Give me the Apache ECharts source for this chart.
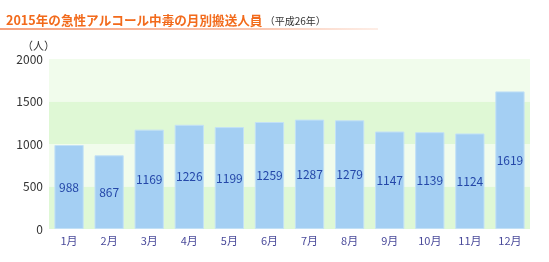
<!DOCTYPE html>
<html>
<head>
<meta charset="utf-8">
<script src="https://cdn.jsdelivr.net/npm/echarts@6/dist/echarts.min.js"></script>
<style>
  html, body { margin: 0; padding: 0; background: #fff; }
  #chart { width: 549px; height: 262px; }
</style>
</head>
<body>
<div id="chart"></div>
<script>
// 月別の搬送人員（平成26年）
const months = ["1月", "2月", "3月", "4月", "5月", "6月", "7月", "8月", "9月", "10月", "11月", "12月"];
const patients = [988, 867, 1169, 1226, 1199, 1259, 1287, 1279, 1147, 1139, 1124, 1619];
const yTicks = [0, 500, 1000, 1500, 2000];

const font = '"Noto Sans CJK JP", "Noto Sans", sans-serif';
const myChart = echarts.init(document.getElementById("chart"));

const option = {
  backgroundColor: "#fff",
  animation: false,
  title: {
    left: 1,
    top: 9,
    text: "{main|2015年の急性アルコール中毒の月別搬送人員}{sub| （平成26年）}",
    textStyle: {
      rich: {
        main: { color: "#f26a1b", fontSize: 12.6, fontWeight: "bold", fontFamily: font },
        sub: { color: "#333", fontSize: 10, fontWeight: "normal", fontFamily: font, padding: [2, 0, 0, 0] },
      },
    },
  },
  graphic: [
    {
      type: "rect",
      left: 0,
      top: 28,
      shape: { width: 378, height: 2 },
      style: {
        fill: new echarts.graphic.LinearGradient(0, 0, 1, 0, [
          { offset: 0, color: "rgba(245,150,110,0.9)" },
          { offset: 0.7, color: "rgba(248,185,160,0.8)" },
          { offset: 1, color: "rgba(252,220,205,0.5)" },
        ]),
      },
    },
    {
      type: "text",
      left: 22,
      top: 40,
      style: { text: "（人）", fill: "#333", font: "11px " + font },
    },
  ],
  grid: { left: 49, right: 19, top: 59, bottom: 33 },
  xAxis: {
    type: "category",
    data: months,
    axisLine: { show: false },
    axisTick: { show: false },
    axisLabel: { color: "#4a4a9a", fontSize: 11, fontFamily: font, margin: 6 },
  },
  yAxis: {
    type: "value",
    min: yTicks[0],
    max: yTicks[yTicks.length - 1],
    interval: 500,
    axisLine: { show: false },
    axisTick: { show: false },
    splitLine: { show: false },
    splitArea: {
      show: true,
      areaStyle: { color: ["#dff8d5", "#f1fcec"] },
    },
    axisLabel: {
      color: "#333",
      fontSize: 12,
      fontFamily: font,
      margin: 6,
      formatter: (v) => String(v),
    },
  },
  series: [
    {
      type: "bar",
      data: patients,
      barCategoryGap: "27%",
      itemStyle: { color: "#a4cff3", borderColor: "#c3e1f6", borderWidth: 1 },
      label: {
        show: true,
        position: "inside",
        color: "#2447a8",
        fontSize: 12,
        fontFamily: font,
      },
    },
  ],
};
myChart.setOption(option);
</script>
</body>
</html>
